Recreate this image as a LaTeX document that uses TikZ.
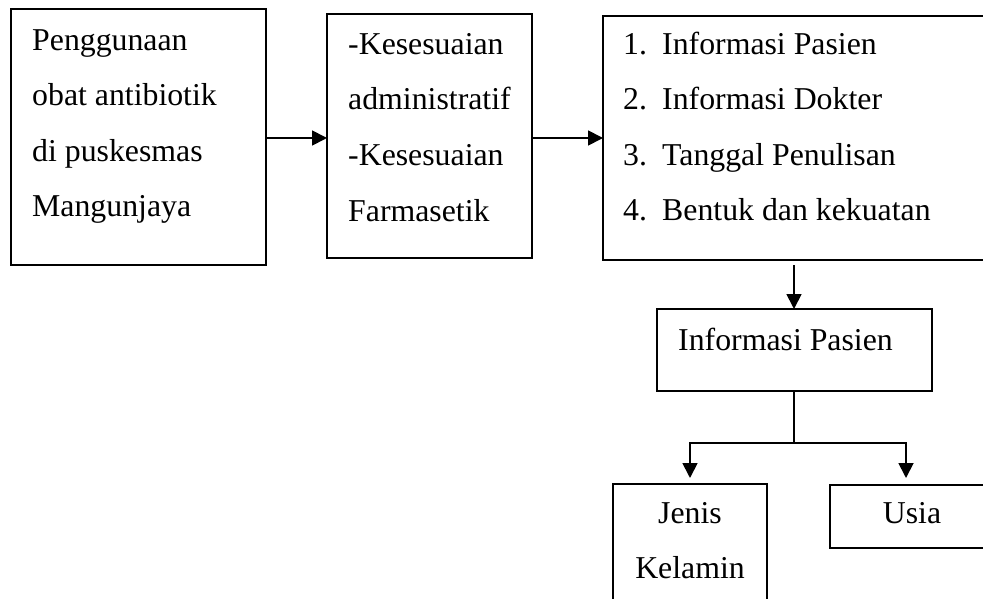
\documentclass[tikz,border=0pt]{standalone}
\usepackage{fontspec}
\setmainfont{Liberation Serif}
\usetikzlibrary{arrows.meta}
\begin{document}
\begin{tikzpicture}[x=1pt,y=-1pt,
  box/.style={draw, line width=1.8pt, inner sep=0pt, outer sep=0pt, anchor=north west},
  txt/.style={anchor=base west, inner sep=0pt, font=\fontsize{31.8}{38}\selectfont},
  ctxt/.style={anchor=base, inner sep=0pt, font=\fontsize{31.8}{38}\selectfont},
  arr/.style={line width=1.8pt, -{Triangle[length=15pt,width=15pt]}},
  conn/.style={line width=1.8pt}]
\useasboundingbox (0,0) rectangle (983,599);
\clip (0,0) rectangle (983,599);
% boxes
\node[box, minimum width=255pt, minimum height=256pt] (b1) at (11,9) {};
\node[box, minimum width=205pt, minimum height=244pt] (b2) at (327,14) {};
\node[box, minimum width=397pt, minimum height=244pt] (b3) at (603,16) {};
\node[box, minimum width=275pt, minimum height=82pt] (b4) at (657,309) {};
\node[box, minimum width=154pt, minimum height=136pt] (b5) at (613,484) {};
\node[box, minimum width=170pt, minimum height=63pt] (b6) at (830,485) {};
% texts box 1
\node[txt] (t11) at (32,51) {Penggunaan};
\node[txt] (t12) at (32,106) {obat antibiotik};
\node[txt] (t13) at (32,161) {di puskesmas};
\node[txt] (t14) at (32,216) {Mangunjaya};
% texts box 2
\node[txt] (t21) at (348,55) {-Kesesuaian};
\node[txt] (t22) at (348,110) {administratif};
\node[txt] (t23) at (348,166) {-Kesesuaian};
\node[txt] (t24) at (348,221) {Farmasetik};
% texts box 3
\node[txt] (t31) at (623,55) {\makebox[39pt][l]{1.}Informasi Pasien};
\node[txt] (t32) at (623,110) {\makebox[39pt][l]{2.}Informasi Dokter};
\node[txt] (t33) at (623,165) {\makebox[39pt][l]{3.}Tanggal Penulisan};
\node[txt] (t34) at (623,220) {\makebox[39pt][l]{4.}Bentuk dan kekuatan};
% box 4
\node[txt] (t41) at (678,350) {Informasi Pasien};
% box 5, 6
\node[ctxt] (t51) at (690,523) {Jenis};
\node[ctxt] (t52) at (690,578) {Kelamin};
\node[ctxt] (t61) at (912,523) {Usia};
% connectors
\coordinate (a1) at (266,138);
\coordinate (a2) at (532,138);
\draw[arr] (a1) -- (a1 -| b2.west);
\draw[arr] (a2) -- (a2 -| b3.west);
\coordinate (s3) at (794,265);
\draw[arr] (s3) -- (s3 |- b4.north);
\coordinate (j) at (794,443);
\coordinate (jl) at (690,443);
\coordinate (jr) at (906,443);
\coordinate (e5) at (690,478);
\coordinate (e6) at (906,478);
\draw[conn] (j |- b4.south) -- (j);
\draw[arr] (j) -- (jl) -- (e5);
\draw[arr] (j) -- (jr) -- (e6);
\end{tikzpicture}
\end{document}
